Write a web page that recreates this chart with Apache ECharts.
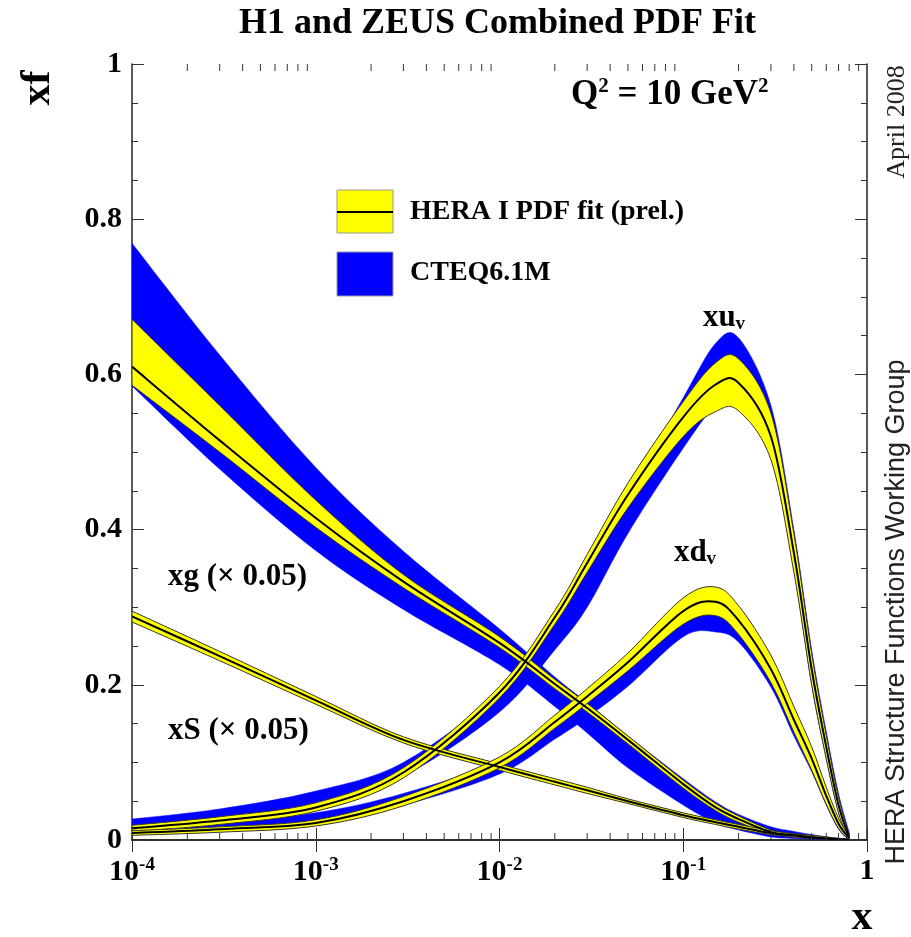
<!DOCTYPE html>
<html>
<head>
<meta charset="utf-8">
<title>H1 and ZEUS Combined PDF Fit</title>
<script src="https://cdn.jsdelivr.net/npm/echarts@6.0.0/dist/echarts.min.js"></script>
<style>
  html, body { margin: 0; padding: 0; background: #fff; }
  #chart { width: 911px; height: 937px; }
</style>
</head>
<body>
<div id="chart"></div>
<script>
const xs = [0.0001, 0.0003, 0.001, 0.003, 0.01, 0.02, 0.03, 0.05, 0.1, 0.15, 0.2, 0.3, 0.4, 0.5, 0.6, 0.7, 0.8];

// xg (x 0.05) : wide band at low x
const gluCentral  = [0.610, 0.515, 0.415, 0.333, 0.254, 0.201, 0.170, 0.129, 0.072, 0.042, 0.027, 0.010, 0.006, 0.003, 0.002, 0.001, 0];
const gluHeraLow  = [0.586, 0.500, 0.403, 0.325, 0.248, 0.195, 0.165, 0.124, 0.067, 0.038, 0.023, 0.008, 0.004, 0.002, 0.001, 0, 0];
const gluHeraHigh = [0.671, 0.560, 0.438, 0.342, 0.262, 0.207, 0.176, 0.134, 0.077, 0.047, 0.031, 0.013, 0.008, 0.005, 0.003, 0.002, 0.001];
const gluCteqLow  = [0.585, 0.478, 0.373, 0.297, 0.226, 0.172, 0.138, 0.093, 0.045, 0.022, 0.013, 0.004, 0.002, 0.001, 0, 0, 0];
const gluCteqHigh = [0.769, 0.625, 0.480, 0.372, 0.272, 0.210, 0.177, 0.134, 0.079, 0.049, 0.033, 0.017, 0.011, 0.007, 0.004, 0.002, 0.001];

// xS (x 0.05) : thin band
const seaCentral  = [0.288, 0.237, 0.180, 0.129, 0.094, 0.075, 0.064, 0.050, 0.032, 0.023, 0.017, 0.009, 0.006, 0.004, 0.002, 0.001, 0];
const seaHeraLow  = [0.281, 0.231, 0.175, 0.125, 0.090, 0.071, 0.060, 0.047, 0.029, 0.020, 0.014, 0.007, 0.004, 0.002, 0.001, 0, 0];
const seaHeraHigh = [0.295, 0.243, 0.185, 0.133, 0.098, 0.079, 0.068, 0.053, 0.035, 0.026, 0.020, 0.012, 0.008, 0.006, 0.004, 0.002, 0.001];

// xu_v
const uvCentral  = [0.015, 0.025, 0.042, 0.087, 0.190, 0.287, 0.357, 0.445, 0.545, 0.587, 0.589, 0.520, 0.370, 0.220, 0.120, 0.045, 0.003];
const uvHeraLow  = [0.011, 0.020, 0.037, 0.080, 0.183, 0.278, 0.345, 0.428, 0.520, 0.552, 0.553, 0.490, 0.345, 0.200, 0.105, 0.035, 0];
const uvHeraHigh = [0.019, 0.030, 0.048, 0.093, 0.198, 0.296, 0.368, 0.460, 0.565, 0.615, 0.620, 0.550, 0.395, 0.240, 0.135, 0.055, 0.006];
const uvCteqLow  = [0.012, 0.022, 0.040, 0.082, 0.165, 0.245, 0.300, 0.395, 0.505, 0.560, 0.570, 0.500, 0.350, 0.200, 0.105, 0.035, 0];
const uvCteqHigh = [0.027, 0.040, 0.063, 0.100, 0.192, 0.285, 0.355, 0.445, 0.570, 0.640, 0.647, 0.560, 0.400, 0.245, 0.140, 0.060, 0.010];

// xd_v
const dvCentral  = [0.009, 0.014, 0.022, 0.050, 0.100, 0.152, 0.185, 0.229, 0.295, 0.307, 0.283, 0.220, 0.155, 0.105, 0.057, 0.021, 0.002];
const dvHeraLow  = [0.006, 0.010, 0.018, 0.044, 0.093, 0.144, 0.176, 0.218, 0.278, 0.289, 0.265, 0.203, 0.139, 0.090, 0.046, 0.015, 0];
const dvHeraHigh = [0.012, 0.017, 0.026, 0.056, 0.107, 0.161, 0.195, 0.241, 0.312, 0.326, 0.302, 0.238, 0.172, 0.120, 0.068, 0.028, 0.004];
const dvCteqLow  = [0.008, 0.013, 0.022, 0.045, 0.085, 0.130, 0.158, 0.198, 0.262, 0.268, 0.255, 0.197, 0.134, 0.088, 0.045, 0.014, 0];
const dvCteqHigh = [0.016, 0.023, 0.035, 0.060, 0.102, 0.152, 0.182, 0.228, 0.292, 0.296, 0.285, 0.230, 0.167, 0.115, 0.063, 0.025, 0.003];

// minor ticks of the log axis: 2..9 in every decade
const minorTicksX = [];
for (let d = -4; d < 0; d++) {
  for (let m = 2; m <= 9; m++) minorTicksX.push(m * Math.pow(10, d));
}

const SERIF = "'Liberation Serif', 'DejaVu Serif', serif";
const SANS = "'Liberation Sans', 'DejaVu Sans', sans-serif";
const YELLOW = '#ffff00';
const BLUE = '#0000ff';

// smooth path (Catmull-Rom as cubic Beziers) through pixel points
function curvePath(pts, start) {
  let d = (start ? 'M' : 'L') + pts[0][0].toFixed(2) + ' ' + pts[0][1].toFixed(2);
  for (let i = 0; i < pts.length - 1; i++) {
    const p0 = pts[Math.max(i - 1, 0)], p1 = pts[i], p2 = pts[i + 1], p3 = pts[Math.min(i + 2, pts.length - 1)];
    const c1x = p1[0] + (p2[0] - p0[0]) / 6, c1y = p1[1] + (p2[1] - p0[1]) / 6;
    const c2x = p2[0] - (p3[0] - p1[0]) / 6, c2y = p2[1] - (p3[1] - p1[1]) / 6;
    d += 'C' + c1x.toFixed(2) + ' ' + c1y.toFixed(2) + ' ' + c2x.toFixed(2) + ' ' + c2y.toFixed(2) + ' ' + p2[0].toFixed(2) + ' ' + p2[1].toFixed(2);
  }
  return d;
}

// band between lo and hi, drawn from the series data through the axes
function band(lo, hi, color, outline, z) {
  return {
    type: 'custom', z: z, silent: true, clip: true,
    data: xs.map((x, i) => [x, lo[i], hi[i]]),
    encode: { x: 0, y: [1, 2] },
    renderItem: function (params, api) {
      if (params.dataIndexInside !== 0) return null;
      const n = params.dataInsideLength;
      const up = [], dn = [];
      for (let i = 0; i < n; i++) {
        const x = api.value(0, i);
        up.push(api.coord([x, api.value(2, i)]));
        dn.push(api.coord([x, api.value(1, i)]));
      }
      dn.reverse();
      const d = curvePath(up, true) + curvePath(dn, false) + 'Z';
      return {
        type: 'path', shape: { pathData: d },
        style: outline ? { fill: color, stroke: '#333', lineWidth: 1 } : { fill: color, stroke: color, lineWidth: 0.5 }
      };
    }
  };
}

function central(arr) {
  return {
    type: 'custom', z: 5, silent: true, clip: true,
    data: xs.map((x, i) => [x, arr[i]]),
    encode: { x: 0, y: 1 },
    renderItem: function (params, api) {
      if (params.dataIndexInside !== 0) return null;
      const pts = [];
      for (let i = 0; i < params.dataInsideLength; i++) pts.push(api.coord([api.value(0, i), api.value(1, i)]));
      return { type: 'path', shape: { pathData: curvePath(pts, true) }, style: { fill: null, stroke: '#000', lineWidth: 2 } };
    }
  };
}

const series = [
  band(gluCteqLow, gluCteqHigh, BLUE, false, 1),
  band(uvCteqLow, uvCteqHigh, BLUE, false, 1),
  band(dvCteqLow, dvCteqHigh, BLUE, false, 1),
  band(gluHeraLow, gluHeraHigh, YELLOW, true, 2),
  band(seaHeraLow, seaHeraHigh, YELLOW, true, 2),
  band(uvHeraLow, uvHeraHigh, YELLOW, true, 2),
  band(dvHeraLow, dvHeraHigh, YELLOW, true, 2),
  central(gluCentral), central(seaCentral), central(uvCentral), central(dvCentral),
  {
    type: 'custom', data: minorTicksX.map(v => [v, 0]), clip: false, silent: true, z: 6,
    encode: { x: 0, y: 1 },
    renderItem: function (params, api) {
      const x = api.value(0);
      const b = api.coord([x, 0]);
      const t = api.coord([x, 1]);
      const st = { stroke: '#333', lineWidth: 1 };
      return {
        type: 'group',
        children: [
          { type: 'line', shape: { x1: b[0], y1: b[1], x2: b[0], y2: b[1] - 7 }, style: st },
          { type: 'line', shape: { x1: t[0], y1: t[1], x2: t[0], y2: t[1] + 7 }, style: st }
        ]
      };
    }
  }
];

const axisLine = { lineStyle: { color: '#222', width: 1.5 } };
const tick = { inside: true, length: 12, lineStyle: { color: '#333', width: 1 } };

const chart = echarts.init(document.getElementById('chart'));
chart.setOption({
  animation: false,
  backgroundColor: '#fff',
  title: {
    text: 'H1 and ZEUS Combined PDF Fit', left: 234, top: 1,
    textStyle: { fontFamily: SERIF, fontWeight: 'bold', fontSize: 36, color: '#000' }
  },
  grid: { left: 132, right: 44, top: 64, bottom: 97 },
  xAxis: [
    {
      type: 'log', logBase: 10, min: 0.0001, max: 1, position: 'bottom',
      axisLine: axisLine, axisTick: tick, splitLine: { show: false },
      axisLabel: {
        margin: 16, color: '#000',
        formatter: function (v) {
          const e = Math.round(Math.log10(v));
          return e === 0 ? '{b|1}' : '{b|10}{s|' + e + '}';
        },
        rich: {
          b: { fontFamily: SERIF, fontWeight: 'bold', fontSize: 30, color: '#000' },
          s: { fontFamily: SERIF, fontWeight: 'bold', fontSize: 19, color: '#000', verticalAlign: 'top', padding: [0, 0, 14, 0] }
        }
      }
    },
    {
      type: 'log', logBase: 10, min: 0.0001, max: 1, position: 'top',
      axisLine: axisLine, axisTick: tick, axisLabel: { show: false }, splitLine: { show: false }
    }
  ],
  yAxis: [
    {
      type: 'value', min: 0, max: 1, interval: 0.2, position: 'left',
      axisLine: Object.assign({ show: true }, axisLine), axisTick: tick,
      minorTick: { show: true, splitNumber: 4, length: 6, lineStyle: { color: '#333', width: 1 } },
      splitLine: { show: false },
      axisLabel: {
        margin: 10, color: '#000', fontFamily: SERIF, fontWeight: 'bold', fontSize: 30,
        formatter: v => (v === 0 ? '0' : v === 1 ? '1' : v.toFixed(1))
      }
    },
    {
      type: 'value', min: 0, max: 1, interval: 0.2, position: 'right',
      axisLine: Object.assign({ show: true }, axisLine), axisTick: tick,
      minorTick: { show: true, splitNumber: 4, length: 6, lineStyle: { color: '#333', width: 1 } },
      splitLine: { show: false }, axisLabel: { show: false }
    }
  ],
  series: series,
  graphic: [
    { type: 'text', x: 38, y: 88, rotation: Math.PI / 2,
      style: { text: 'xf', font: 'bold 42px ' + SERIF, fill: '#000', align: 'center', verticalAlign: 'middle' } },
    { type: 'text', x: 862, y: 918,
      style: { text: 'x', font: 'bold 42px ' + SERIF, fill: '#000', align: 'center', verticalAlign: 'middle' } },
    { type: 'text', x: 571, y: 95,
      style: {
        text: '{b|Q}{s|2}{b| = 10 GeV}{s|2}', verticalAlign: 'middle',
        rich: {
          b: { font: 'bold 35px ' + SERIF, fill: '#000' },
          s: { font: 'bold 21px ' + SERIF, fill: '#000', verticalAlign: 'top', padding: [0, 0, 16, 0] }
        }
      } },
    // legend
    { type: 'rect', shape: { x: 337, y: 190, width: 56, height: 43 }, style: { fill: YELLOW, stroke: '#999', lineWidth: 1 } },
    { type: 'line', shape: { x1: 337, y1: 212, x2: 393, y2: 212 }, style: { stroke: '#000', lineWidth: 2 } },
    { type: 'rect', shape: { x: 337, y: 252, width: 56, height: 44 }, style: { fill: BLUE, stroke: '#999', lineWidth: 1 } },
    { type: 'text', x: 410, y: 212,
      style: { text: 'HERA I PDF fit (prel.)', font: 'bold 28px ' + SERIF, fill: '#000', verticalAlign: 'middle' } },
    { type: 'text', x: 410, y: 273,
      style: { text: 'CTEQ6.1M', font: 'bold 28px ' + SERIF, fill: '#000', verticalAlign: 'middle' } },
    // curve labels
    { type: 'text', x: 724, y: 318,
      style: {
        text: '{b|xu}{s|v}', align: 'center', verticalAlign: 'middle',
        rich: { b: { font: 'bold 31px ' + SERIF, fill: '#000' }, s: { font: 'bold 19px ' + SERIF, fill: '#000', verticalAlign: 'bottom', padding: [12, 0, 0, 0] } }
      } },
    { type: 'text', x: 695, y: 553,
      style: {
        text: '{b|xd}{s|v}', align: 'center', verticalAlign: 'middle',
        rich: { b: { font: 'bold 31px ' + SERIF, fill: '#000' }, s: { font: 'bold 19px ' + SERIF, fill: '#000', verticalAlign: 'bottom', padding: [12, 0, 0, 0] } }
      } },
    { type: 'text', x: 168, y: 577,
      style: { text: 'xg (\u00d7 0.05)', font: 'bold 31px ' + SERIF, fill: '#000', verticalAlign: 'middle' } },
    { type: 'text', x: 168, y: 731,
      style: { text: 'xS (\u00d7 0.05)', font: 'bold 31px ' + SERIF, fill: '#000', verticalAlign: 'middle' } },
    // side notes
    { type: 'text', x: 897, y: 122, rotation: Math.PI / 2,
      style: { text: 'April 2008', font: '26px ' + SERIF, fill: '#222', align: 'center', verticalAlign: 'middle' } },
    { type: 'text', x: 897, y: 612, rotation: Math.PI / 2,
      style: { text: 'HERA Structure Functions Working Group', font: '27px ' + SANS, fill: '#222', align: 'center', verticalAlign: 'middle' } }
  ]
});
</script>
</body>
</html>
